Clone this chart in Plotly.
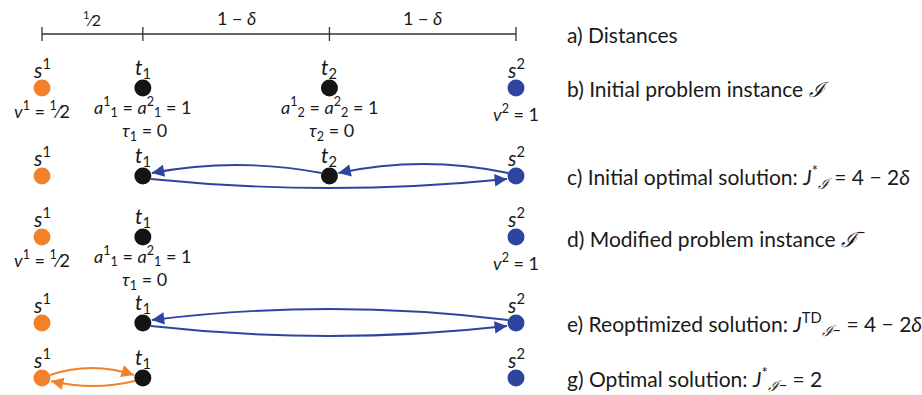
import numpy as np
import plotly.graph_objects as go

# ---------------- data ----------------
node_names = ["<i>s</i><sup>1</sup>", "<i>t</i><sub>1</sub>", "<i>t</i><sub>2</sub>", "<i>s</i><sup>2</sup>"]
segment_lengths = [0.5, 0.925, 0.925]          # 1/2, 1-δ, 1-δ  (δ ≈ 0.075)
segment_labels = ["<sup>1</sup>⁄2", "1 − <i>δ</i>", "1 − <i>δ</i>"]

row_titles = [
    "a) Distances",
    "b) Initial problem instance <i>ℐ</i>",
    "c) Initial optimal solution: <i>J</i><sup>*</sup><sub><i>ℐ</i></sub> = 4 − 2<i>δ</i>",
    "d) Modified problem instance <i>ℐ</i><sup>−</sup>",
    "e) Reoptimized solution: <i>J</i><sup>TD</sup><sub><i>ℐ</i>−</sub> = 4 − 2<i>δ</i>",
    "g) Optimal solution: <i>J</i><sup>*</sup><sub><i>ℐ</i>−</sub> = 2",
]
row_nodes = [[], [0, 1, 2, 3], [0, 1, 2, 3], [0, 1, 3], [0, 1, 3], [0, 1, 3]]
row_edges = [[], [], [(2, 1), (3, 2), (1, 3)], [], [(3, 1), (1, 3)], [(0, 1), (1, 0)]]
row_edge_agent = [[], [], [1, 1, 1], [], [1, 1], [0, 0]]
instance_rows = [1, 3]
node_below = {
    0: ["<i>v</i><sup>1</sup> = <sup>1</sup>⁄2"],
    1: ["<i>a</i><sup>1</sup><sub>1</sub> = <i>a</i><sup>2</sup><sub>1</sub> = 1", "<i>τ</i><sub>1</sub> = 0"],
    2: ["<i>a</i><sup>1</sup><sub>2</sub> = <i>a</i><sup>2</sup><sub>2</sub> = 1", "<i>τ</i><sub>2</sub> = 0"],
    3: ["<i>v</i><sup>2</sup> = 1"],
}

# ---------------- styles / layout ----------------
W, H = 922, 395
ROW_Y = [34, 88, 176, 237, 323, 378]
X0_PX, X1_PX = 42, 516
NODE_COLORS = ["#F2812A", "#141414", "#141414", "#2E44A0"]
AGENT_COLORS = ["#F2812A", "#2E44A0"]
EDGE_BEND = [[], [], [-11, -12, 12], [], [-14, 13], [-10, 8]]
TXT = "#1a1a1a"
FONT = "Lato"

pos = np.concatenate([[0], np.cumsum(segment_lengths)])
scale = (X1_PX - X0_PX) / pos[-1]
xr = [-X0_PX / scale, (W - X0_PX) / scale]

fig = go.Figure()
shapes = []
annotations = []

def ann(x, y, text, size=19, xanchor="center"):
    annotations.append(dict(x=x, y=y, xref="x", yref="y", text=text, showarrow=False,
                            xanchor=xanchor, yanchor="middle",
                            font=dict(family=FONT, size=size, color=TXT)))

# distance scale (row a)
ya = ROW_Y[0]
shapes.append(dict(type="line", x0=pos[0], x1=pos[-1], y0=ya, y1=ya, xref="x", yref="y",
                   line=dict(color="#333", width=1.3)))
for p in pos:
    shapes.append(dict(type="line", x0=p, x1=p, y0=ya - 7, y1=ya + 7, xref="x", yref="y",
                       line=dict(color="#333", width=1.3)))
for i, lab in enumerate(segment_labels):
    ann((pos[i] + pos[i + 1]) / 2, ya - 16, lab, size=18 if i else 16)

# rows
for r, title in enumerate(row_titles):
    y = ROW_Y[r]
    ann((565 - X0_PX) / scale, y, title, size=21, xanchor="left")
    nodes = row_nodes[r]
    if nodes:
        fig.add_trace(go.Scatter(x=[pos[n] for n in nodes], y=[y] * len(nodes), mode="markers",
                                 marker=dict(size=17, color=[NODE_COLORS[n] for n in nodes]),
                                 showlegend=False, hoverinfo="skip"))
        for n in nodes:
            ann(pos[n], y - 20, node_names[n], size=21)
        if r in instance_rows:
            for n in nodes:
                lines = node_below[n]
                if n in (0, 3):
                    ann(pos[n], y + (22 if n == 0 else 25), lines[0], size=18)
                else:
                    ann(pos[n], y + 19, lines[0], size=18)
                    ann(pos[n] + 2 / scale, y + 43, lines[1], size=18)
    for e, (a, b) in enumerate(row_edges[r]):
        col = AGENT_COLORS[row_edge_agent[r][e]]
        bend = EDGE_BEND[r][e]
        sgn = 1 if bend > 0 else -1
        d = 1 if pos[b] > pos[a] else -1
        r_px = 8
        xs = pos[a] + d * r_px / scale
        xe = pos[b] - d * (r_px + 1) / scale
        ys = y + sgn * 3
        ye = y + sgn * 3
        xc = (xs + xe) / 2
        yc = y + 2 * bend - sgn * 3
        shapes.append(dict(type="path", xref="x", yref="y",
                           path=f"M {xs},{ys} Q {xc},{yc} {xe},{ye}",
                           line=dict(color=col, width=1.9)))
        vx = (xc - xe) * scale
        vy = (yc - ye)
        nrm = np.hypot(vx, vy)
        L = 10
        annotations.append(dict(x=xe, y=ye, xref="x", yref="y", ax=vx / nrm * L, ay=vy / nrm * L,
                                axref="pixel", ayref="pixel", text="", showarrow=True,
                                arrowhead=2, arrowsize=1.3, arrowwidth=1.9, arrowcolor=col))

fig.update_layout(
    width=W, height=H, margin=dict(l=0, r=0, t=0, b=0),
    paper_bgcolor="white", plot_bgcolor="white",
    xaxis=dict(range=xr, visible=False, fixedrange=True),
    yaxis=dict(range=[H, 0], visible=False, fixedrange=True),
    shapes=shapes, annotations=annotations, showlegend=False,
)
fig.write_html("out.html", config={"displayModeBar": False},
               post_script="document.body.style.margin='0';document.body.style.overflow='hidden';")
